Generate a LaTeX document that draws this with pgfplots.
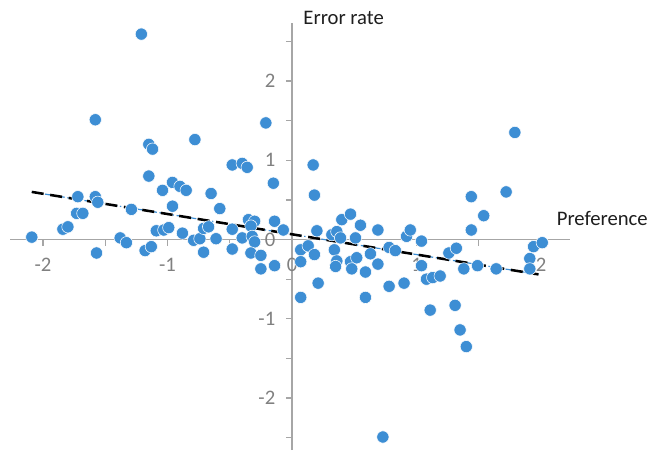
\documentclass[border=0pt]{standalone}
\usepackage{pgfplots}
\pgfplotsset{compat=1.18}
\usepackage{fontspec}
\setmainfont{Carlito}
\definecolor{ptblue}{RGB}{61,142,212}
\definecolor{axgray}{RGB}{166,166,166}
\definecolor{tickgray}{RGB}{128,128,128}
\definecolor{labdark}{RGB}{30,30,30}
\begin{document}
\begin{tikzpicture}
\begin{axis}[
  at={(7.5pt,0pt)}, anchor=south west,
  scale only axis, width=420pt, height=320.25pt,
  xmin=-2.265, xmax=2.233, ymin=-2.654, ymax=2.730,
  axis lines=middle,
  axis line style={-, draw=axgray, line width=1.1pt},
  every inner x axis line/.append style={-},
  every inner y axis line/.append style={-},
  hide obscured x ticks=false, hide obscured y ticks=false,
  xtick={-2,-1.5,...,2}, xticklabels={-2,,-1,,0,,1,,2},
  ytick={-2.5,-2,...,2.5}, yticklabels={,-2,,-1,,0,,1,,2,},
  tick align=outside, major tick length=4.5pt,
  tick style={draw=axgray, line width=1pt},
  ticklabel style={font=\fontsize{15.5}{18}\selectfont, text=tickgray},
  xticklabel style={yshift=-6pt},
  yticklabel style={xshift=-4.5pt},
  clip=false,
  every axis x label/.style={at={(axis cs:2.125,0.27)}, anchor=west, inner sep=0pt, font=\fontsize{15.5}{18}\selectfont, text=labdark},
  every axis y label/.style={at={(axis cs:0.09,2.79)}, anchor=west, inner sep=0pt, font=\fontsize{15.5}{18}\selectfont, text=labdark},
  xlabel={Preference}, ylabel={Error rate},
]
\addplot[only marks, mark=*, mark size=4.6pt, mark options={fill=ptblue, draw=white, line width=0.4pt}] coordinates {
(-2.09,0.03) (-1.84,0.13) (-1.80,0.16) (-1.73,0.33) (-1.68,0.33) (-1.72,0.54)
(-1.58,0.54) (-1.56,0.47) (-1.57,-0.17) (-1.58,1.51) (-1.38,0.02) (-1.33,-0.04)
(-1.29,0.38) (-1.21,2.59) (-1.18,-0.14) (-1.13,-0.09) (-1.15,1.20) (-1.12,1.14)
(-1.15,0.80) (-1.09,0.11) (-1.03,0.12) (-0.99,0.15) (-1.04,0.62) (-0.96,0.72)
(-0.90,0.67) (-0.85,0.62) (-0.96,0.42) (-0.88,0.08) (-0.78,1.26) (-0.79,-0.01)
(-0.74,0.01) (-0.71,0.14) (-0.67,0.16) (-0.71,-0.16) (-0.65,0.58) (-0.61,0.01)
(-0.58,0.39) (-0.48,0.94) (-0.40,0.96) (-0.36,0.91) (-0.48,0.13) (-0.48,-0.12)
(-0.40,0.02) (-0.35,0.25) (-0.30,0.23) (-0.33,0.17) (-0.32,0.04) (-0.30,-0.03)
(-0.33,-0.17) (-0.25,-0.20) (-0.25,-0.37) (-0.14,-0.33) (-0.21,1.47) (-0.15,0.71)
(-0.14,0.23) (-0.07,0.12)
(0.07,-0.13) (0.13,-0.08) (0.07,-0.28) (0.18,-0.19) (0.21,-0.55) (0.07,-0.73)
(0.17,0.94) (0.18,0.56) (0.20,0.11) (0.40,0.25) (0.47,0.32) (0.55,0.18)
(0.32,0.06) (0.36,0.10) (0.39,0.02) (0.34,-0.13) (0.36,-0.27) (0.35,-0.34)
(0.51,0.02) (0.47,-0.28) (0.52,-0.23) (0.48,-0.37) (0.59,-0.41) (0.59,-0.73)
(0.63,-0.18) (0.69,-0.31) (0.69,0.12) (0.78,-0.10) (0.83,-0.14) (0.78,-0.59)
(0.90,-0.55) (0.92,0.04) (0.95,0.12) (1.04,-0.02) (1.04,-0.33) (1.08,-0.50)
(1.13,-0.48) (1.19,-0.46) (1.11,-0.89) (1.26,-0.17) (1.32,-0.11) (1.31,-0.83)
(1.35,-1.14) (1.40,-1.35) (1.38,-0.37) (1.44,0.54) (1.44,0.12) (1.49,-0.33)
(1.54,0.30) (1.64,-0.37) (1.72,0.60) (1.79,1.35) (1.94,-0.09) (2.01,-0.04)
(1.91,-0.24) (1.91,-0.37) (0.73,-2.49)
};
\addplot[ptblue, line width=0.9pt, dash pattern=on 5pt off 2pt on 1pt off 2pt] coordinates {(-2.09,0.60) (1.98,-0.44)};
\addplot[black, line width=1.9pt, dash pattern=on 9pt off 5pt] coordinates {(-2.09,0.60) (1.98,-0.44)};
\end{axis}
\pgfresetboundingbox
\useasboundingbox (0,0) rectangle (486pt,337.5pt);
\end{tikzpicture}
\end{document}
